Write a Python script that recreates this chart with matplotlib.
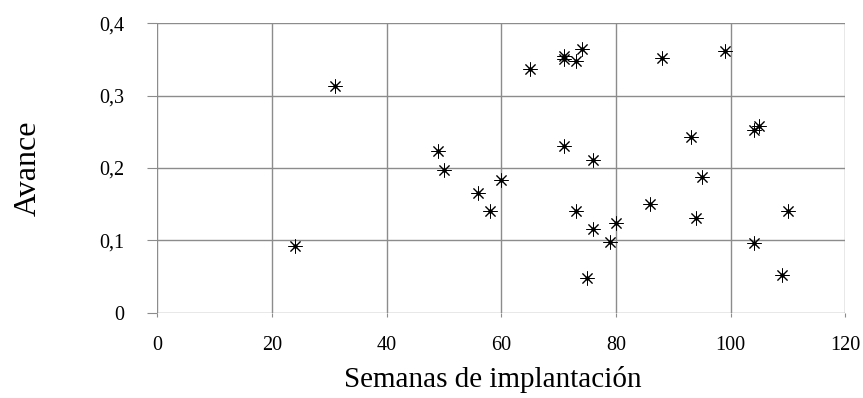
import matplotlib.pyplot as plt
from matplotlib.ticker import FuncFormatter

# semanas de implantación vs avance
semanas = [24, 31, 49, 50, 56, 58, 60, 65, 71, 71, 73, 74, 88, 99, 71,
           76, 93, 104, 105, 95, 73, 76, 79, 80, 75, 86, 94, 104, 109, 110]
avance = [0.092, 0.314, 0.224, 0.197, 0.166, 0.141, 0.183, 0.337, 0.355, 0.351,
          0.348, 0.365, 0.352, 0.362, 0.231, 0.211, 0.243, 0.253, 0.258, 0.188,
          0.140, 0.116, 0.098, 0.124, 0.048, 0.150, 0.131, 0.096, 0.052, 0.141]

x_ticks = [0, 20, 40, 60, 80, 100, 120]
y_ticks = [0, 0.1, 0.2, 0.3, 0.4]

plt.rcParams['font.family'] = ['Liberation Serif', 'DejaVu Serif']

fig = plt.figure(figsize=(8.63, 3.98), dpi=100)
ax = fig.add_axes([0.1823, 0.2143, 0.7972, 0.7272])

ax.plot(semanas, avance, linestyle='none', marker=(8, 2, 0), markersize=10,
        markeredgewidth=0.7, color='black')
ax.plot(semanas, avance, linestyle='none', marker='o', markersize=2.2,
        color='black')

ax.set_xlim(0, 120)
ax.set_ylim(0, 0.4)
ax.set_xticks(x_ticks)
ax.set_yticks(y_ticks)
ax.yaxis.set_major_formatter(FuncFormatter(
    lambda v, p: '0' if v == 0 else ('%.1f' % v).replace('.', ',')))

ax.grid(True, color='#8c8c8c', linewidth=1)
ax.set_axisbelow(True)
for s in ax.spines.values():
    s.set_visible(False)
ax.tick_params(axis='y', length=7, color='#8c8c8c', labelsize=14.5, pad=17)
ax.tick_params(axis='x', length=3, color='#8c8c8c', labelsize=14.5, pad=14)

ax.set_xlabel('Semanas de implantación', fontsize=21)
ax.xaxis.set_label_coords(0.488, -0.185)
ax.set_ylabel('Avance', fontsize=23)
ax.yaxis.set_label_coords(-0.166, 0.5)

fig.savefig('out.png', dpi=100)
